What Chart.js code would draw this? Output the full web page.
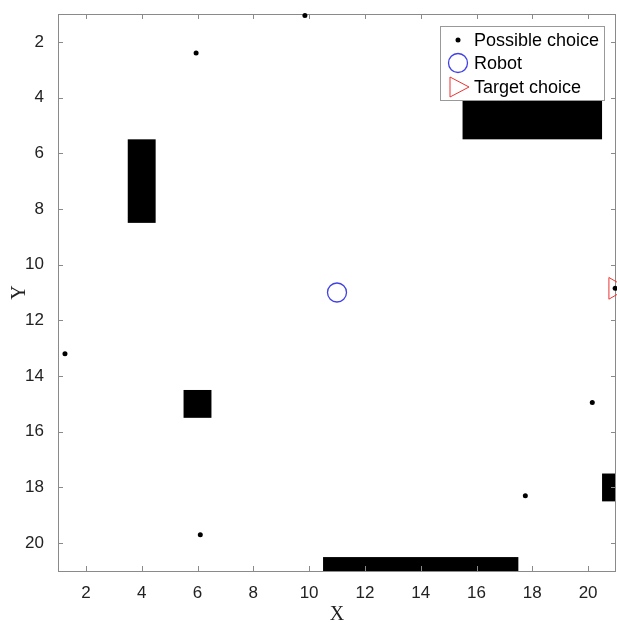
<!DOCTYPE html>
<html>
<head>
<meta charset="utf-8">
<script src="https://cdn.jsdelivr.net/npm/chart.js@4.4.1/dist/chart.umd.min.js"></script>
<style>
  body { margin: 0; background: #fff; }
  canvas { display: block; }
</style>
</head>
<body>
<canvas id="myChart" width="617" height="622"></canvas>
<script>
// possible choices
const choiceX = [9.85, 5.95, 1.25, 6.1, 17.75, 20.15, 20.97];
const choiceY = [1.05, 2.4, 13.2, 19.7, 18.3, 14.95, 10.85];
// robot and target
const robotX = [11];
const robotY = [11];
const targetX = [20.97];
const targetY = [10.85];
// obstacles (x from/to, y from/to)
const obsX0 = [3.5, 5.5, 15.5, 10.5, 20.5];
const obsX1 = [4.5, 6.5, 20.5, 17.5, 21];
const obsY0 = [5.5, 14.5, 3.5, 20.5, 17.5];
const obsY1 = [8.5, 15.5, 5.5, 21, 18.5];
// ticks
const xTicks = [2, 4, 6, 8, 10, 12, 14, 16, 18, 20];
const yTicks = [2, 4, 6, 8, 10, 12, 14, 16, 18, 20];

const labels = ['Possible choice', 'Robot', 'Target choice'];
const axisColor = '#8a8a8a';

function toPts(xs, ys) {
  return xs.map((x, i) => ({ x: x, y: ys[i] }));
}

function noPad(s) {
  s.paddingLeft = 0; s.paddingRight = 0;
  s.paddingTop = 0; s.paddingBottom = 0;
}

const boxPlugin = {
  id: 'boxPlugin',
  beforeDatasetsDraw(chart) {
    const ctx = chart.ctx;
    const xs = chart.scales.x, ys = chart.scales.y;
    const a = chart.chartArea;
    ctx.save();
    ctx.beginPath();
    ctx.rect(a.left, a.top, a.right - a.left, a.bottom - a.top);
    ctx.clip();
    ctx.fillStyle = '#000';
    for (let i = 0; i < obsX0.length; i++) {
      const l = xs.getPixelForValue(obsX0[i]);
      const r = xs.getPixelForValue(obsX1[i]);
      const t = ys.getPixelForValue(obsY0[i]);
      const b = ys.getPixelForValue(obsY1[i]);
      ctx.fillRect(l, t, r - l, b - t);
    }
    ctx.restore();

    // axes box and inside ticks
    ctx.save();
    ctx.strokeStyle = axisColor;
    ctx.lineWidth = 1;
    ctx.strokeRect(a.left + 0.5, a.top + 0.5, a.right - a.left - 1, a.bottom - a.top);
    ctx.beginPath();
    xTicks.forEach(v => {
      const px = Math.round(xs.getPixelForValue(v)) + 0.5;
      ctx.moveTo(px, a.bottom); ctx.lineTo(px, a.bottom - 5);
      ctx.moveTo(px, a.top); ctx.lineTo(px, a.top + 5);
    });
    yTicks.forEach(v => {
      const py = Math.round(ys.getPixelForValue(v)) + 0.5;
      ctx.moveTo(a.left, py); ctx.lineTo(a.left + 5, py);
      ctx.moveTo(a.right, py); ctx.lineTo(a.right - 5, py);
    });
    ctx.stroke();
    ctx.restore();
  },
  afterDraw(chart) {
    // legend box in upper right
    const ctx = chart.ctx;
    const bx = 440, by = 26, bw = 164, bh = 74;
    ctx.save();
    ctx.fillStyle = '#fff';
    ctx.fillRect(bx, by, bw, bh);
    ctx.strokeStyle = '#999';
    ctx.lineWidth = 1;
    ctx.strokeRect(bx + 0.5, by + 0.5, bw, bh);
    const mx = 458;
    const rows = [40, 63, 87];
    // dot
    ctx.fillStyle = '#000';
    ctx.beginPath(); ctx.arc(mx, rows[0], 2.5, 0, Math.PI * 2); ctx.fill();
    // circle
    ctx.strokeStyle = '#4040e8';
    ctx.lineWidth = 1.3;
    ctx.beginPath(); ctx.arc(mx, rows[1], 9.5, 0, Math.PI * 2); ctx.stroke();
    // triangle
    ctx.strokeStyle = '#ee3333';
    ctx.lineWidth = 1;
    ctx.beginPath();
    ctx.moveTo(mx - 8, rows[2] - 10);
    ctx.lineTo(mx + 11, rows[2]);
    ctx.lineTo(mx - 8, rows[2] + 10);
    ctx.closePath(); ctx.stroke();
    ctx.fillStyle = '#000';
    ctx.font = '18px "Liberation Sans", Arial, sans-serif';
    ctx.textBaseline = 'middle';
    labels.forEach((t, i) => ctx.fillText(t, 474, rows[i] + 1));
    ctx.restore();
  }
};

const myChart = new Chart('myChart', {
  type: 'scatter',
  data: {
    datasets: [
      {
        label: labels[0],
        data: toPts(choiceX, choiceY),
        pointRadius: 2.5,
        pointBackgroundColor: '#000',
        pointBorderWidth: 0,
        clip: false
      },
      {
        label: labels[1],
        data: toPts(robotX, robotY),
        pointRadius: 9.5,
        pointBackgroundColor: 'rgba(0,0,0,0)',
        pointBorderColor: '#4040e8',
        pointBorderWidth: 1.3,
        clip: false
      },
      {
        label: labels[2],
        data: toPts(targetX, targetY),
        pointStyle: 'triangle',
        rotation: 90,
        pointRadius: 12.5,
        pointBackgroundColor: 'rgba(0,0,0,0)',
        pointBorderColor: '#ee3333',
        pointBorderWidth: 1,
        clip: false
      }
    ]
  },
  options: {
    responsive: false,
    animation: false,
    events: [],
    layout: { autoPadding: false, padding: { top: 14, right: 1, left: 0, bottom: 0 } },
    plugins: {
      legend: { display: false },
      tooltip: { enabled: false }
    },
    scales: {
      x: {
        type: 'linear',
        min: 1,
        max: 21,
        afterBuildTicks: s => { s.ticks = xTicks.map(v => ({ value: v })); },
        afterFit: s => { s.height = 51; noPad(s); },
        grid: { display: false },
        border: { display: false },
        ticks: {
          color: '#222',
          padding: 4,
          font: { family: '"Liberation Sans", Arial, sans-serif', size: 17 }
        },
        title: {
          display: true,
          text: 'X',
          color: '#222',
          padding: { top: 0, bottom: -3 },
          font: { family: '"Liberation Serif", "Times New Roman", serif', size: 20, lineHeight: 1 }
        }
      },
      y: {
        type: 'linear',
        reverse: true,
        min: 1,
        max: 21,
        afterBuildTicks: s => { s.ticks = yTicks.map(v => ({ value: v })); },
        afterFit: s => { s.width = 58; noPad(s); },
        grid: { display: false },
        border: { display: false },
        ticks: {
          color: '#222',
          padding: 6,
          font: { family: '"Liberation Sans", Arial, sans-serif', size: 17 }
        },
        title: {
          display: true,
          text: 'Y',
          color: '#222',
          padding: 8,
          font: { family: '"Liberation Serif", "Times New Roman", serif', size: 20, lineHeight: 1.2 }
        }
      }
    }
  },
  plugins: [boxPlugin]
});
</script>
</body>
</html>
